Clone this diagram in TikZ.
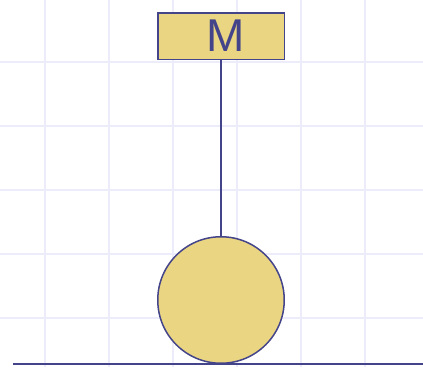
\documentclass[tikz,border=0pt]{standalone}
\usepackage{fontspec}
\setsansfont{Liberation Sans}
\usepackage{xcolor}
\usetikzlibrary{positioning}
\definecolor{gridlav}{HTML}{ECECFA}
\definecolor{inkblue}{HTML}{44448A}
\definecolor{sand}{HTML}{EAD682}

\begin{document}
\begin{tikzpicture}[x=1pt,y=-1pt,line width=1.5pt]
  \useasboundingbox (0,0) rectangle (423,367);
  \foreach \gx in {45,109,173,237,301,365} \draw[gridlav] (\gx,0) -- (\gx,367);
  \foreach \gy in {62,126,190,254,318} \draw[gridlav] (0,\gy) -- (423,\gy);
  \node[draw=inkblue,fill=sand,minimum width=126.5pt,minimum height=46.5pt,inner sep=0pt,text=inkblue,font=\sffamily\fontsize{46}{46}\selectfont] (mass) at (221,36) {\hspace{10pt}M};
  \node[draw=inkblue,fill=sand,circle,minimum size=126.5pt,inner sep=0pt,below=176pt of mass] (bob) {};
  \draw[inkblue] (mass) -- (bob);
  \coordinate (gl) at (13,364);
  \coordinate (gr) at (423,364);
  \draw[inkblue] (gl) -- (gr);
\end{tikzpicture}
\end{document}
